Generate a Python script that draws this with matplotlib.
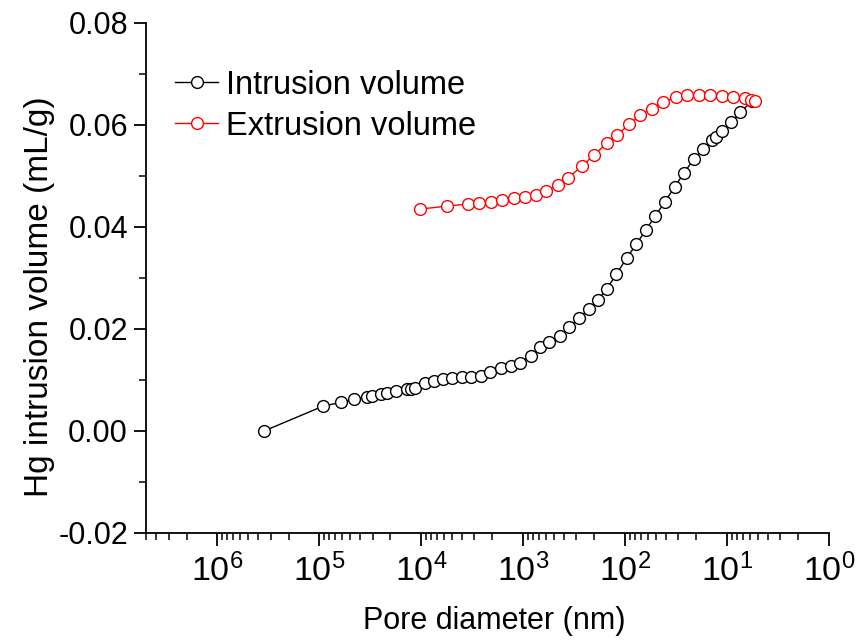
import matplotlib
matplotlib.use("Agg")
import matplotlib.pyplot as plt
from matplotlib.ticker import LogLocator, MultipleLocator, FixedLocator, FixedFormatter

plt.rcParams['font.family'] = ['Liberation Sans', 'DejaVu Sans']
plt.rcParams['mathtext.fontset'] = 'custom'
plt.rcParams['mathtext.rm'] = 'Liberation Sans'
plt.rcParams['mathtext.it'] = 'Liberation Sans'
plt.rcParams['mathtext.bf'] = 'Liberation Sans'
plt.rcParams['mathtext.default'] = 'regular'

# Intrusion curve (pore diameter nm, volume mL/g)
intr_d = [3.48e5, 9.1e4, 6.14e4, 4.61e4, 3.41e4, 3.07e4, 2.45e4, 2.17e4, 1.77e4,
          1.39e4, 1.26e4, 1.15e4, 9.18e3, 7.43e3, 6.07e3, 4.98e3, 3.97e3, 3.24e3,
          2.59e3, 2.11e3, 1.64e3, 1.33e3, 1.07e3, 834, 684, 560, 437, 351, 284,
          228, 185, 152, 122, 96.7, 77.6, 62.9, 50.7, 40.6, 32.5, 26.5, 21.2,
          17.1, 14.0, 12.7, 11.3, 9.2, 7.39, 5.72]
intr_v = [0.0000, 0.0049, 0.0056, 0.0062, 0.0067, 0.0069, 0.0072, 0.0074, 0.0079,
          0.0082, 0.0083, 0.0085, 0.0095, 0.0099, 0.0101, 0.0103, 0.0105, 0.0106,
          0.0108, 0.0116, 0.0123, 0.0127, 0.0134, 0.0148, 0.0164, 0.0174, 0.0187,
          0.0203, 0.0221, 0.0239, 0.0257, 0.0278, 0.0307, 0.0339, 0.0366, 0.0394,
          0.0421, 0.0450, 0.0479, 0.0506, 0.0533, 0.0552, 0.0571, 0.0577, 0.0589,
          0.0605, 0.0625, 0.0647]

# Extrusion curve
extr_d = [1.03e4, 5.58e3, 3.45e3, 2.69e3, 2.08e3, 1.61e3, 1.24e3, 949, 745, 594,
          453, 361, 262, 203, 151, 121, 90.9, 70.9, 54.9, 42.5, 31.9, 24.5, 18.8,
          14.6, 11.3, 8.73, 6.70, 5.76, 5.35]
extr_v = [0.0435, 0.0441, 0.0445, 0.0447, 0.0449, 0.0452, 0.0456, 0.0459, 0.0463,
          0.0470, 0.0483, 0.0497, 0.0520, 0.0541, 0.0564, 0.0580, 0.0601, 0.0620,
          0.0632, 0.0645, 0.0654, 0.0659, 0.0659, 0.0658, 0.0657, 0.0654, 0.0652,
          0.0649, 0.0648]

x_ticks = [1e6, 1e5, 1e4, 1e3, 1e2, 1e1, 1e0]
x_ticklabels = ['$10^{6}$', '$10^{5}$', '$10^{4}$', '$10^{3}$', '$10^{2}$', '$10^{1}$', '$10^{0}$']
y_ticks = [-0.02, 0.00, 0.02, 0.04, 0.06, 0.08]
y_ticklabels = ['-0.02', '0.00', '0.02', '0.04', '0.06', '0.08']

fig = plt.figure(figsize=(8.63, 6.40), dpi=100)
ax = fig.add_axes([146/863, 1 - 533/640, (829 - 146)/863, (533 - 23)/640])

ax.plot(intr_d, intr_v, color='black', lw=1.0, marker='o', ms=8.5, mfc='white',
        mec='black', mew=1.0, label='Intrusion volume')
ax.plot(extr_d, extr_v, color='red', lw=1.0, marker='o', ms=8.5, mfc='white',
        mec='red', mew=1.0, label='Extrusion volume')

ax.set_xscale('log')
ax.set_xlim(5e6, 1)
ax.set_ylim(-0.02, 0.08)

ax.xaxis.set_major_locator(FixedLocator(x_ticks))
ax.xaxis.set_major_formatter(FixedFormatter(x_ticklabels))
ax.xaxis.set_minor_locator(LogLocator(base=10, subs=range(2, 10), numticks=20))
ax.yaxis.set_major_locator(FixedLocator(y_ticks))
ax.yaxis.set_major_formatter(FixedFormatter(y_ticklabels))
ax.yaxis.set_minor_locator(MultipleLocator(0.01))

for s in ['top', 'right']:
    ax.spines[s].set_visible(False)
for s in ['left', 'bottom']:
    ax.spines[s].set_linewidth(1.3)

ax.tick_params(which='major', direction='out', length=9, width=1.3, pad=4)
ax.tick_params(axis='y', which='major', labelsize=22)
ax.tick_params(axis='x', which='major', labelsize=24.5, pad=6)
ax.tick_params(which='minor', direction='out', length=5, width=1.1)

ax.set_xlabel('Pore diameter (nm)', fontsize=22)
ax.xaxis.set_label_coords(0.5095, -0.143)
ax.set_ylabel('Hg intrusion volume (mL/g)', fontsize=24)
ax.yaxis.set_label_coords(-0.133, 0.463)

ax.legend(loc='upper left', bbox_to_anchor=(29/683, 0.9086), frameon=False,
          fontsize=23.5, handlelength=1.32, handletextpad=0.25, labelspacing=0.31,
          borderpad=0, borderaxespad=0)

fig.savefig('out.png', dpi=100)
